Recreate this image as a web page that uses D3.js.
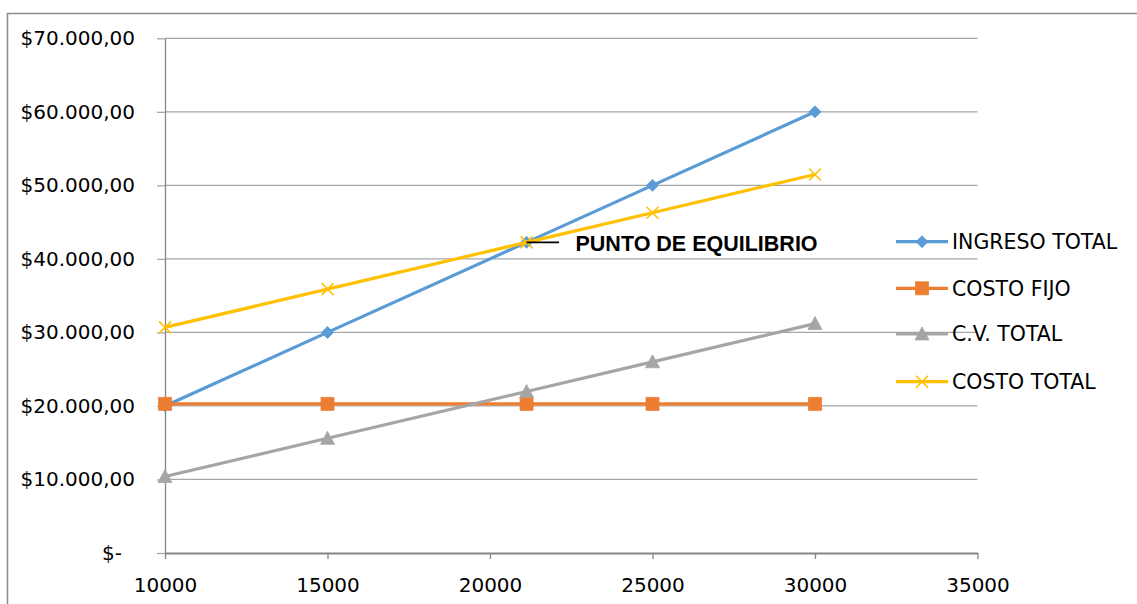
<!DOCTYPE html>
<html>
<head>
<meta charset="utf-8">
<script src="https://cdn.jsdelivr.net/npm/d3@7"></script>
<style>
  body { margin: 0; background: #ffffff; }
  svg { display: block; }
</style>
</head>
<body>
<svg id="chart" width="1137" height="604"></svg>
<script>
// Unidades producidas/vendidas
const cantidades = [10000, 15000, 21125, 25000, 30000];
// Valores de cada serie ($)
const ingresoTotal = [20000, 30000, 42250, 50000, 60000];
const costoFijo    = [20280, 20280, 20280, 20280, 20280];
const cvTotal      = [10400, 15600, 21970, 26000, 31200];
const costoTotal   = [30680, 35880, 42250, 46280, 51480];

const seriesNames = ["INGRESO TOTAL", "COSTO FIJO", "C.V. TOTAL", "COSTO TOTAL"];
const yTicks = [0, 10000, 20000, 30000, 40000, 50000, 60000, 70000];
const yTickLabels = ["$-", "$10.000,00", "$20.000,00", "$30.000,00", "$40.000,00",
                     "$50.000,00", "$60.000,00", "$70.000,00"];
const xTicks = [10000, 15000, 20000, 25000, 30000, 35000];
const xTickLabels = ["10000", "15000", "20000", "25000", "30000", "35000"];
const etiquetaEquilibrio = "PUNTO DE EQUILIBRIO";
const indiceEquilibrio = 2;

const svg = d3.select("#chart");
const W = 1137, H = 604;
const plot = { left: 165, right: 977.5, top: 38.3, bottom: 553 };

const x = d3.scaleLinear().domain([10000, 35000]).range([plot.left, plot.right]);
const y = d3.scaleLinear().domain([0, 70000]).range([plot.bottom, plot.top]);

const FONT = "'DejaVu Sans', 'Liberation Sans', sans-serif";

// chart frame (top and left edges visible)
svg.append("path")
  .attr("d", `M7.5,${H} L7.5,13.5 L${W},13.5`)
  .attr("fill", "none").attr("stroke", "#8c8c8c").attr("stroke-width", 1.5);

// horizontal gridlines
svg.append("g").selectAll("line")
  .data(yTicks.filter(d => d !== 0))
  .join("line")
  .attr("x1", plot.left).attr("x2", plot.right)
  .attr("y1", d => y(d)).attr("y2", d => y(d))
  .attr("stroke", "#a6a6a6").attr("stroke-width", 1.3);

// y axis
const yAxis = svg.append("g")
  .attr("transform", `translate(${plot.left},0)`)
  .call(d3.axisLeft(y).tickValues(yTicks)
    .tickFormat((d, i) => yTickLabels[i])
    .tickSize(8).tickSizeOuter(0).tickPadding(22));
yAxis.select(".domain").attr("stroke", "#868686").attr("stroke-width", 1.3);
yAxis.selectAll(".tick line").attr("stroke", "#a6a6a6").attr("stroke-width", 1.3);
yAxis.selectAll(".tick text")
  .attr("font-family", FONT).attr("font-size", 20).attr("fill", "#000")
  .attr("dx", d => d === 0 ? -13 : 0);

// x axis
const xAxis = svg.append("g")
  .attr("transform", `translate(0,${plot.bottom})`)
  .call(d3.axisBottom(x).tickValues(xTicks)
    .tickFormat((d, i) => xTickLabels[i])
    .tickSize(6).tickSizeOuter(0).tickPadding(19));
xAxis.select(".domain").attr("stroke", "#868686").attr("stroke-width", 1.8);
xAxis.selectAll(".tick line").attr("stroke", "#868686").attr("stroke-width", 1.3);
xAxis.selectAll(".tick text")
  .attr("font-family", FONT).attr("font-size", 20).attr("fill", "#000");

// marker shapes
function markerPath(kind, s) {
  const h = s / 2;
  switch (kind) {
    case "diamond": return `M0,${-h}L${h},0L0,${h}L${-h},0Z`;
    case "square": return `M${-h},${-h}H${h}V${h}H${-h}Z`;
    case "triangle": return `M0,${-h}L${h},${h * 0.85}L${-h},${h * 0.85}Z`;
    case "x": return `M${-h},${-h}L${h},${h}M${h},${-h}L${-h},${h}`;
  }
}

const series = [
  { name: seriesNames[0], values: ingresoTotal, color: "#5b9bd5", marker: "diamond", size: 12 },
  { name: seriesNames[1], values: costoFijo,    color: "#ed7d31", marker: "square",  size: 13 },
  { name: seriesNames[2], values: cvTotal,      color: "#a5a5a5", marker: "triangle", size: 14 },
  { name: seriesNames[3], values: costoTotal,   color: "#ffc000", marker: "x",       size: 12 }
];

function drawMarker(g, s, cx, cy) {
  const p = g.append("path")
    .attr("d", markerPath(s.marker, s.size))
    .attr("transform", `translate(${cx},${cy})`);
  if (s.marker === "x") {
    p.attr("fill", "none").attr("stroke", s.color).attr("stroke-width", 1.6);
  } else {
    p.attr("fill", s.color).attr("stroke", s.color).attr("stroke-width", 0.8);
  }
}

const line = d3.line().x(d => x(d[0])).y(d => y(d[1]));
const seriesLayer = svg.append("g");
series.forEach(s => {
  const g = seriesLayer.append("g");
  const pts = cantidades.map((c, i) => [c, s.values[i]]);
  g.append("path").datum(pts)
    .attr("d", line)
    .attr("fill", "none").attr("stroke", s.color)
    .attr("stroke-width", 3.2).attr("stroke-linejoin", "round");
  pts.forEach(p => drawMarker(g, s, x(p[0]), y(p[1])));
});

// break-even annotation
const bx = x(cantidades[indiceEquilibrio]);
const by = y(ingresoTotal[indiceEquilibrio]);
svg.append("line")
  .attr("x1", bx).attr("x2", 559).attr("y1", by).attr("y2", by)
  .attr("stroke", "#000").attr("stroke-width", 1.8);
svg.append("text")
  .attr("x", 575.5).attr("y", by + 1).attr("dy", "0.35em")
  .attr("font-family", "'Liberation Sans', Arial, sans-serif")
  .attr("font-weight", "bold").attr("font-size", 21.5).attr("fill", "#000")
  .text(etiquetaEquilibrio);

// legend
const legendRows = [241.7, 288.3, 334, 381.7];
const legend = svg.append("g");
series.forEach((s, i) => {
  const ly = legendRows[i];
  const g = legend.append("g");
  g.append("line")
    .attr("x1", 896).attr("x2", 948).attr("y1", ly).attr("y2", ly)
    .attr("stroke", s.color).attr("stroke-width", 3.2);
  drawMarker(g, s, 922, ly);
  g.append("text")
    .attr("x", 952).attr("y", ly).attr("dy", "0.36em")
    .attr("font-family", FONT).attr("font-size", 20.5).attr("fill", "#000")
    .text(s.name);
});
</script>
</body>
</html>
